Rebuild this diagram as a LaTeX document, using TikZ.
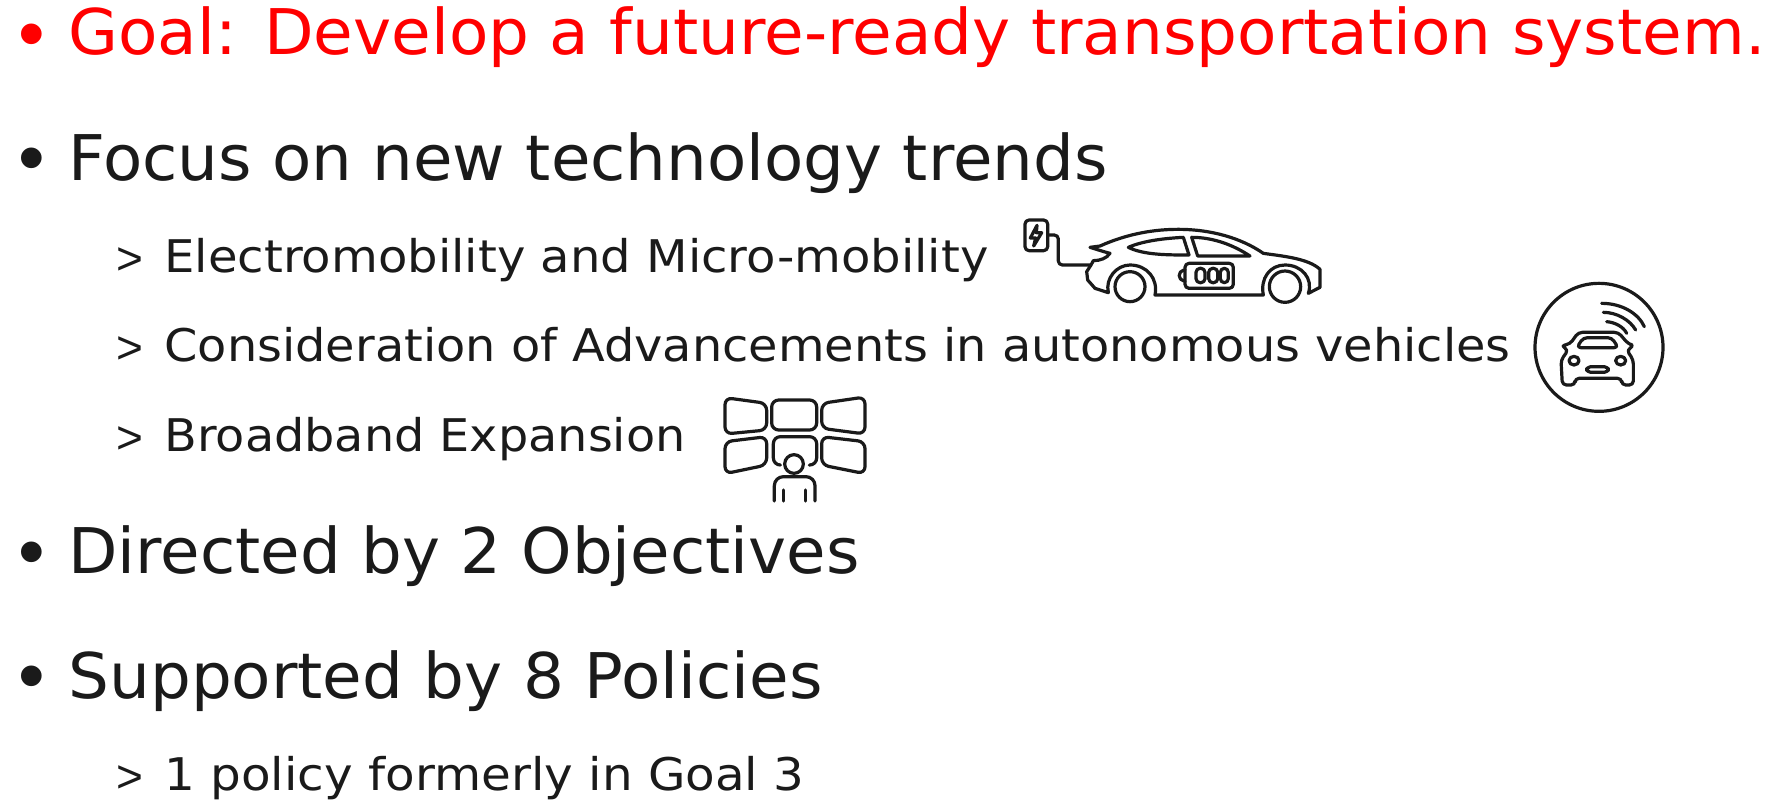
\documentclass[tikz,border=0pt]{standalone}
\usepackage{fontspec}
\usepackage{graphicx}
\setmainfont{DejaVu Sans}
\newfontfamily\markfont{Liberation Sans}
\definecolor{ink}{HTML}{1A1A1A}
\definecolor{goalred}{HTML}{FF0000}
\newsavebox\fitbox
\newcommand\fitw[2]{\sbox\fitbox{#2}\scalebox{\fpeval{#1pt/\wd\fitbox}}[1]{\usebox\fitbox}}
\tikzset{
  txt/.style={anchor=base west,inner sep=0pt,outer sep=0pt,text=ink},
  big/.style={txt,font=\fontsize{63}{70}\selectfont},
  sub/.style={txt,font=\fontsize{45}{50}\selectfont},
  mrk/.style={txt,font=\markfont\fontsize{46}{50}\selectfont},
  bul/.style={txt,anchor=base,font=\markfont\fontsize{76}{80}\selectfont},
  icon/.style={draw=ink,line width=3.2pt,line join=round,line cap=round,rounded corners=4pt},
  panel/.style={icon,rounded corners=7pt},
  iconsmooth/.style={draw=ink,line width=3.2pt,line join=round,line cap=round}
}
\begin{document}
\begin{tikzpicture}[x=1pt,y=-1pt]
\useasboundingbox (0,0) rectangle (1768,801);
% bullets
\node[bul,text=goalred] (b1) at (32,59) {•};
\node[bul] (b2) at (32,183) {•};
\node[bul] (b3) at (32,577) {•};
\node[bul] (b4) at (32,701) {•};
% main text
\node[big,text=goalred] (t1) at (68.5,54) {\fitw{1697}{Goal: Develop a future-ready transportation system.}};
\node[big] (t2) at (68.5,180) {\fitw{1039}{Focus on new technology trends}};
\node[big] (t3) at (68.5,573) {\fitw{791}{Directed by 2 Objectives}};
\node[big] (t4) at (68.5,698) {\fitw{754}{Supported by 8 Policies}};
% sub bullets
\node[mrk] (g1) at (116,274) {>};
\node[mrk] (g2) at (116,363) {>};
\node[mrk] (g3) at (116,453) {>};
\node[mrk] (g4) at (116,792) {>};
\node[sub] (s1) at (164.5,272) {\fitw{824}{Electromobility and Micro-mobility}};
\node[sub] (s2) at (164.5,361) {\fitw{1346}{Consideration of Advancements in autonomous vehicles}};
\node[sub] (s3) at (164.5,451) {\fitw{521}{Broadband Expansion}};
\node[sub] (s4) at (164.5,790) {\fitw{640}{1 policy formerly in Goal 3}};
% electric car icon
\begin{scope}[shift={(1015,210)},scale=1/3]
\draw[icon] (30,30) rectangle (98,122);
\draw[iconsmooth] (66,46) -- (46,84) -- (62,84) -- (56,108) -- (80,68) -- (64,68) -- cycle;
\draw[icon] (98,75) -- (130,75) -- (130,165) -- (225,165);
\draw[iconsmooth] (225,112) -- (255,108) .. controls (340,70) and (420,58) .. (490,58)
  .. controls (590,58) and (680,85) .. (745,130) .. controls (800,138) and (880,145) .. (915,178)
  -- (915,232) -- (880,250) .. controls (895,205) and (860,165) .. (810,165)
  .. controls (765,165) and (735,205) .. (745,255) -- (420,255)
  .. controls (430,205) and (395,165) .. (345,165) .. controls (305,165) and (270,205) .. (280,248)
  -- (240,235) -- (218,210) -- (215,185) -- (228,165) -- (235,152)
  .. controls (255,152) and (275,145) .. (285,130) .. controls (265,125) and (245,118) .. (225,112) -- cycle;
\draw[iconsmooth] (340,112) .. controls (385,92) and (450,85) .. (505,82) -- (522,135)
  .. controls (460,135) and (385,135) .. (340,112) -- cycle;
\draw[iconsmooth] (530,82) .. controls (595,82) and (655,105) .. (705,138) -- (548,138) -- cycle;
\draw[icon] (510,160) rectangle (655,235);
\draw[icon] (510,180) -- (493,183) -- (493,210) -- (510,213);
\draw[icon] (543,175) rectangle (570,218);
\draw[icon] (581,175) rectangle (608,218);
\draw[icon] (616,175) rectangle (640,218);
\draw[iconsmooth] (345,230) circle (45);
\draw[iconsmooth] (810,230) circle (47);
\end{scope}
% autonomous car icon
\begin{scope}[shift={(1525,275)},scale=1/3]
\draw[iconsmooth] (222,217) circle (192);
\draw[iconsmooth] (230,85) .. controls (290,85) and (340,115) .. (358,155);
\draw[iconsmooth] (235,112) .. controls (275,112) and (315,135) .. (332,165);
\draw[iconsmooth] (245,140) .. controls (270,142) and (295,155) .. (305,175);
\draw[icon] (130,225) -- (108,212) -- (135,207) -- (160,172) -- (280,172) -- (310,207) -- (328,212) -- (305,225)
  -- (325,255) -- (325,330) -- (290,330) -- (290,310) -- (150,310) -- (150,330) -- (112,330) -- (108,255) -- cycle;
\draw[icon] (155,218) -- (175,188) -- (260,188) -- (280,218) -- cycle;
\draw[iconsmooth] (147,257) ellipse (15 and 13);
\draw[iconsmooth] (287,257) ellipse (15 and 13);
\draw[icon] (185,275) rectangle (250,292);
\end{scope}
% display wall icon
\begin{scope}[shift={(710,385)},scale=1/3]
\draw[panel] (45,38) -- (170,55) -- (170,135) -- (45,147) -- cycle;
\draw[panel] (185,45) rectangle (320,135);
\draw[panel] (335,55) -- (465,36) -- (465,147) -- (335,130) -- cycle;
\draw[panel] (45,170) -- (170,155) -- (170,240) -- (45,266) -- cycle;
\draw[panel] (210,240) -- (190,240) -- (190,155) -- (320,155) -- (320,240) -- (298,240);
\draw[panel] (335,155) -- (465,170) -- (465,266) -- (335,240) -- cycle;
\draw[iconsmooth] (252,237) circle (28);
\draw[icon,rounded corners=9pt] (193,348) -- (193,275) -- (315,275) -- (315,348);
\draw[iconsmooth] (220,315) -- (220,348);
\draw[iconsmooth] (287,315) -- (287,348);
\end{scope}
\end{tikzpicture}
\end{document}
